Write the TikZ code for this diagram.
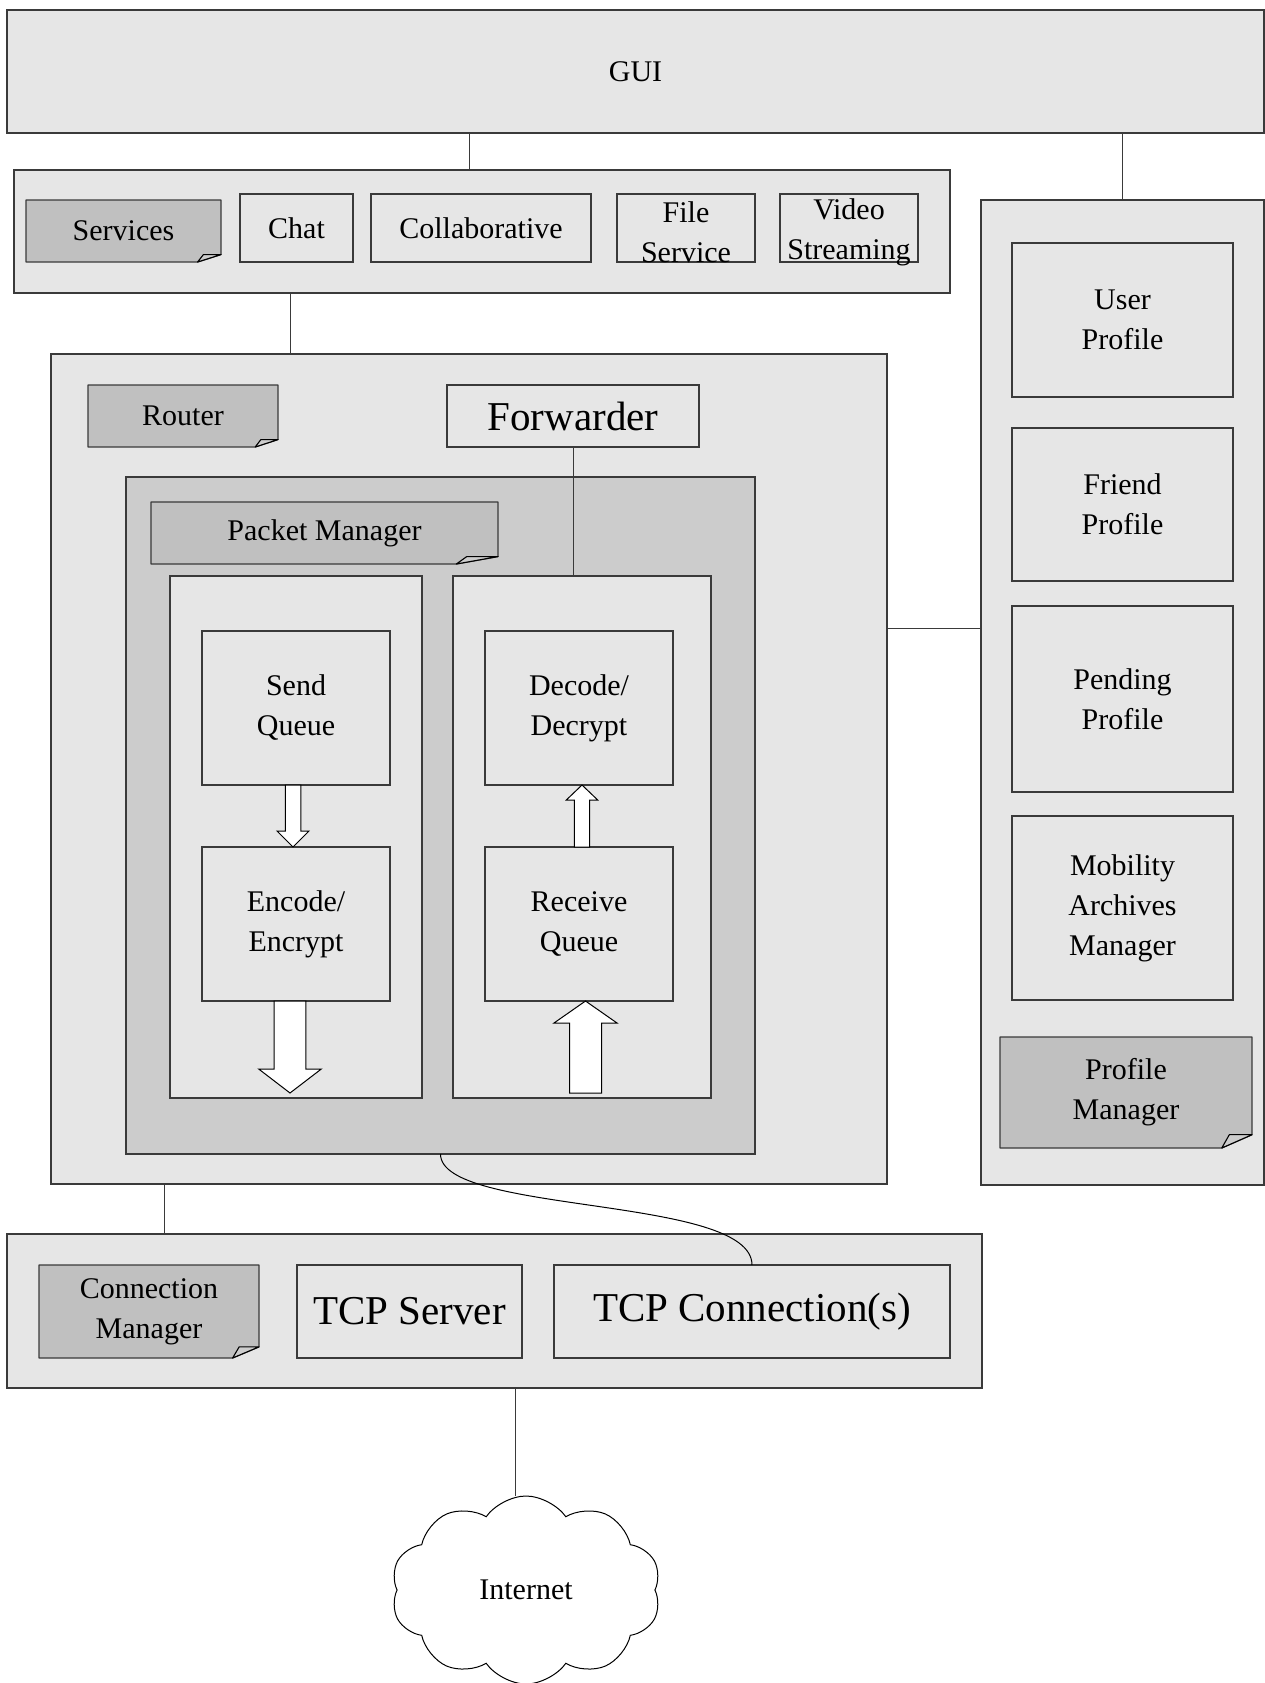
\documentclass[tikz,border=0pt]{standalone}
\usepackage{fontspec}
\setmainfont{Liberation Serif}
\usetikzlibrary{calc,shapes.symbols}

\definecolor{panel}{HTML}{E6E6E6}
\definecolor{notegray}{HTML}{C0C0C0}
\definecolor{flapgray}{HTML}{CDCDCD}
\definecolor{pktgray}{HTML}{CCCCCC}
\definecolor{edge}{HTML}{3A3A3A}

\tikzset{
  every node/.style={inner sep=0pt, outer sep=0pt},
  txt/.style={font=\fontsize{30}{40}\selectfont, align=center},
  bigtxt/.style={font=\fontsize{41}{48}\selectfont, align=center},
  panelbox/.style={rectangle, draw=edge, line width=1.3pt, fill=panel},
  pktbox/.style={panelbox, fill=pktgray},
  notepath/.style={draw=edge, line width=1.3pt, fill=notegray, line join=round},
  flappath/.style={draw=black, line width=1.1pt, fill=flapgray, line join=round},
  link/.style={draw=edge, line width=0.9pt},
  curvelink/.style={draw=black, line width=1pt},
  blockarrowstyle/.style={draw=black, line width=1pt, fill=white, line join=miter},
}

% folded-corner note: name, centre x, centre y, width, height, text
\newcommand\dognote[6]{%
  \pgfmathsetmacro\dnL{#2-#4/2}\pgfmathsetmacro\dnR{#2+#4/2}%
  \pgfmathsetmacro\dnT{#3-#5/2}\pgfmathsetmacro\dnB{#3+#5/2}%
  \pgfmathsetmacro\dnW{0.12*#4}\pgfmathsetmacro\dnH{0.12*#5}%
  \draw[notepath] (\dnL,\dnT) -- (\dnR,\dnT) -- (\dnR,\dnB-\dnH) -- (\dnR-\dnW,\dnB) -- (\dnL,\dnB) -- cycle;
  \draw[flappath] (\dnR-\dnW,\dnB) -- (\dnR-0.75*\dnW,\dnB-\dnH) -- (\dnR,\dnB-\dnH) -- cycle;
  \node[txt, minimum width=#4pt, minimum height=#5pt] (#1) at (#2,#3) {#6};
}

% hollow block arrow: start, tip, half shaft width, half head width, head length
\newcommand\blockarrow[5]{%
  \path ($(#2)!#5!(#1)$) coordinate (ba-h);
  \draw[blockarrowstyle] ($(#1)!#3!90:(#2)$) -- ($(ba-h)!#3!90:(#2)$) -- ($(ba-h)!#4!90:(#2)$)
    -- (#2) -- ($(ba-h)!#4!-90:(#2)$) -- ($(ba-h)!#3!-90:(#2)$) -- ($(#1)!#3!-90:(#2)$) -- cycle;
}

\begin{document}
\begin{tikzpicture}[x=1pt, y=-1pt]
\useasboundingbox (0,0) rectangle (1265,1683);

% top layer
\node[panelbox, txt, minimum width=1257pt, minimum height=123pt] (gui) at (635.5,71.5) {GUI};

% services
\node[panelbox, minimum width=936pt, minimum height=123pt] (svcc) at (482,231.5) {};
\dognote{svcnote}{123.5}{231}{195}{62}{Services}
\node[panelbox, txt, minimum width=113pt, minimum height=68pt] (chat) at (296.5,228) {Chat};
\node[panelbox, txt, minimum width=220pt, minimum height=68pt] (collab) at (481,228) {Collaborative};
\node[panelbox, minimum width=138pt, minimum height=68pt] (file) at (686,228) {};
\node[txt] (filelbl) at ([yshift=-4pt]file.center) {File\\Service};
\node[panelbox, minimum width=138pt, minimum height=68pt] (video) at (849,228) {};
\node[txt] (videolbl) at ([yshift=-4pt]video.center) {Video\\Streaming};

% profiles
\node[panelbox, minimum width=283pt, minimum height=985pt] (profc) at (1122.5,692.5) {};
\node[panelbox, txt, minimum width=221pt, minimum height=154pt] (userp) at (1122.5,320) {User\\Profile};
\node[panelbox, txt, minimum width=221pt, minimum height=153pt] (friendp) at (1122.5,504.5) {Friend\\Profile};
\node[panelbox, txt, minimum width=221pt, minimum height=186pt] (pendp) at (1122.5,699) {Pending\\Profile};
\node[panelbox, txt, minimum width=221pt, minimum height=184pt] (mobil) at (1122.5,908) {Mobility\\Archives\\Manager};
\dognote{profmgr}{1126}{1092.5}{252}{111}{Profile\\Manager}

% router
\node[panelbox, minimum width=836pt, minimum height=830pt] (routerc) at (469,769) {};
\dognote{router}{183}{416}{190}{62}{Router}
\node[panelbox, bigtxt, minimum width=252pt, minimum height=62pt] (fwd) at (573,416) {Forwarder};

% packet manager
\node[pktbox, minimum width=629pt, minimum height=677pt] (pkt) at (440.5,815.5) {};
\dognote{pktmgr}{324.5}{533}{347}{62}{Packet Manager}
\node[panelbox, minimum width=252pt, minimum height=522pt] (sendcol) at (296,837) {};
\node[panelbox, minimum width=258pt, minimum height=522pt] (recvcol) at (582,837) {};
\node[panelbox, txt, minimum width=188pt, minimum height=154pt] (sendq) at (296,708) {Send\\Queue};
\node[panelbox, txt, minimum width=188pt, minimum height=154pt] (encode) at (296,924) {Encode/\\Encrypt};
\node[panelbox, txt, minimum width=188pt, minimum height=154pt] (decode) at (579,708) {Decode/\\Decrypt};
\node[panelbox, txt, minimum width=188pt, minimum height=154pt] (recvq) at (579,924) {Receive\\Queue};

% connections
\node[panelbox, minimum width=975pt, minimum height=154pt] (connc) at (494.5,1311) {};
\dognote{connmgr}{149}{1311.5}{220}{93}{Connection\\Manager}
\node[panelbox, bigtxt, minimum width=225pt, minimum height=93pt] (tcpserver) at (409.5,1311.5) {TCP Server};
\node[panelbox, bigtxt, minimum width=396pt, minimum height=93pt] (tcpconn) at (752,1311.5) {TCP Connection(s)};

% internet
\node[cloud, cloud puffs=10, cloud puff arc=110, cloud ignores aspect, draw=black, line width=1pt,
      fill=white, txt, minimum width=270pt, minimum height=188pt] (net) at (526,1590) {Internet};

% flow arrows inside the packet manager
\coordinate (a1s) at ([xshift=-3pt]sendq.south);
\coordinate (a1t) at ([xshift=-3pt]encode.north);
\blockarrow{a1s}{a1t}{7.75pt}{16pt}{16pt}
\coordinate (a2s) at ([xshift=-6pt]encode.south);
\coordinate (a2t) at ($(a2s |- sendcol.south)+(0,-5)$);
\blockarrow{a2s}{a2t}{15.8pt}{31.3pt}{24pt}
\coordinate (a3s) at ([xshift=3pt]recvq.north);
\coordinate (a3t) at ([xshift=3pt]decode.south);
\blockarrow{a3s}{a3t}{7.7pt}{15.7pt}{15pt}
\coordinate (a4t) at ([xshift=6.5pt]recvq.south);
\coordinate (a4s) at ($(a4t |- recvcol.south)+(0,-5)$);
\blockarrow{a4s}{a4t}{16pt}{31.5pt}{22pt}

% connectors
\coordinate (gx) at (469,0);
\coordinate (sx) at (290,0);
\coordinate (ry) at (0,628);
\coordinate (cx) at (164,0);
\coordinate (nx) at (515,0);
\draw[link] (gui.south -| gx) -- (svcc.north -| gx);
\draw[link] (profc.north) -- (profc.north |- gui.south);
\draw[link] (svcc.south -| sx) -- (routerc.north -| sx);
\draw[link] (routerc.east |- ry) -- (profc.west |- ry);
\draw[link] (fwd.south) -- (fwd.south |- recvcol.north);
\draw[link] (routerc.south -| cx) -- (connc.north -| cx);
\draw[curvelink] (pkt.south) .. controls +(0,61) and +(0,-70) .. (tcpconn.north);
\draw[link] (connc.south -| nx) -- (net.north -| nx);
\end{tikzpicture}
\end{document}
